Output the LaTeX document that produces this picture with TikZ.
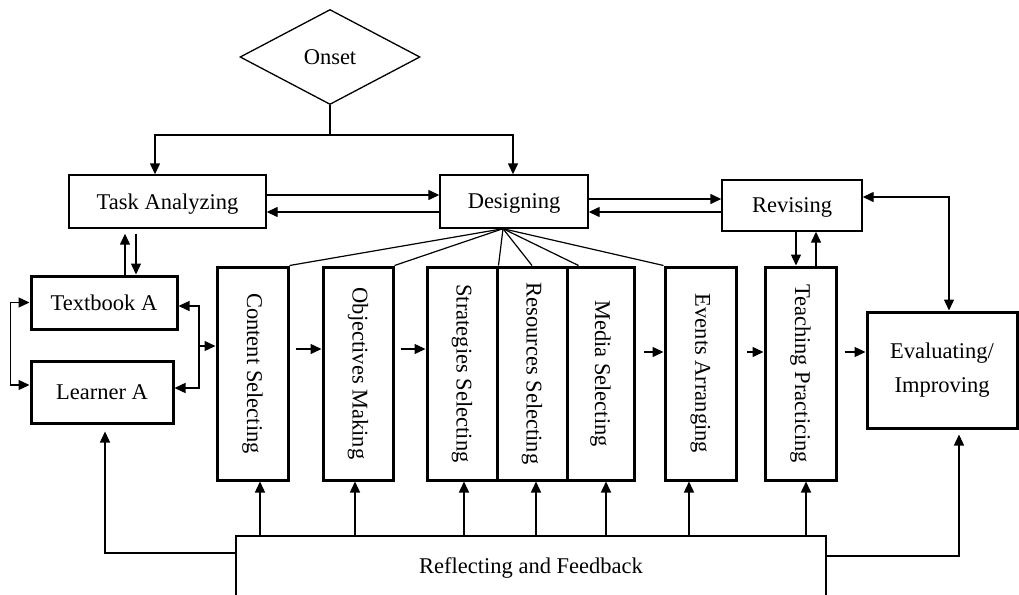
\documentclass[tikz,border=0pt]{standalone}
\usepackage{fontspec}
\setmainfont{Liberation Serif}
\usetikzlibrary{arrows.meta,shapes.geometric,calc}
\begin{document}
\begin{tikzpicture}[x=1pt,y=-1pt,
  every node/.style={font=\fontsize{22.5}{26}\selectfont, inner sep=0pt},
  thinbox/.style={draw, line width=1.4pt, rectangle, text depth=0pt},
  thickbox/.style={draw, line width=3pt, rectangle},
  vbox/.style={thickbox, minimum width=70pt, minimum height=213pt},
  arr/.style={-{Triangle[length=11pt,width=10pt]}, line width=1.4pt},
  arrb/.style={{Triangle[length=11pt,width=10pt]}-{Triangle[length=11pt,width=10pt]}, line width=1.4pt},
  ln/.style={line width=1.2pt}]
\useasboundingbox (0,0) rectangle (1019,594);
\clip (0,0) rectangle (1019,594);

% nodes
\node[draw, diamond, line width=1.3pt, minimum width=180pt, minimum height=95pt, text depth=0pt] (on) at (330,57) {Onset};
\node[thinbox, minimum width=197pt, minimum height=53pt] (ta) at (167.5,201.5) {Task Analyzing};
\node[thinbox, minimum width=148pt, minimum height=53pt] (des) at (514,201.5) {Designing};
\node[thinbox, minimum width=140pt, minimum height=51pt] (rev) at (792,205.5) {Revising};
\node[thickbox, text depth=0pt, minimum width=146pt, minimum height=53pt] (tb) at (104,302.5) {Textbook A};
\node[thickbox, text depth=0pt, minimum width=142pt, minimum height=62pt] (lr) at (102,392) {Learner A};
\node[vbox, minimum width=71pt] (cs) at (252.5,373.5) {\rotatebox{-90}{Content Selecting}};
\node[vbox] (om) at (358,373.5) {\rotatebox{-90}{Objectives Making}};
\node[vbox] (ss) at (462,373.5) {\rotatebox{-90}{Strategies Selecting}};
\node[vbox] (rs) at (532,373.5) {\rotatebox{-90}{Resources Selecting}};
\node[vbox, minimum width=67pt] (ms) at (600.5,373.5) {\rotatebox{-90}{Media Selecting}};
\node[vbox, minimum width=71pt] (ea) at (700.5,373.5) {\rotatebox{-90}{Events Arranging}};
\node[vbox, minimum width=71pt] (tp) at (800.5,373.5) {\rotatebox{-90}{Teaching Practicing}};
\node[thickbox, minimum width=150pt, minimum height=116pt, align=center,
      font=\fontsize{22.5}{34}\selectfont] (ev) at (942,370) {Evaluating/\\Improving};
\node[thinbox, minimum width=590pt, minimum height=60pt] (rf) at (531,566) {Reflecting and Feedback};

% onset branches
\coordinate (j) at (330,135);
\draw[ln] (on.south) -- (j);
\draw[arr] (j) -| ([xshift=-12.5pt]ta.north);
\draw[arr] (j) -| ([xshift=-1pt]des.north);

% top row
\draw[arr] ([yshift=6.5pt]ta.east) -- ([yshift=6.5pt]ta.east -| des.west);
\draw[arr] ([yshift=-10.5pt]ta.east -| des.west) -- ([yshift=-10.5pt]ta.east);
\draw[arr] ([yshift=2.5pt]des.east) -- ([yshift=2.5pt]des.east -| rev.west);
\draw[arr] ([yshift=-10.5pt]des.east -| rev.west) -- ([yshift=-10.5pt]des.east);
\draw[arrb] ([yshift=8.5pt]rev.east) -| ([xshift=7pt]ev.north);
\draw[arr] ([xshift=4pt]rev.south) -- ([xshift=4pt]rev.south |- tp.north);
\draw[arr] ([xshift=24pt]rev.south |- tp.north) -- ([xshift=24pt]rev.south);

% task analyzing <-> textbook
\draw[arr, shorten >=5pt] ([xshift=21pt]tb.north) -- ([xshift=21pt]tb.north |- ta.south);
\draw[arr, shorten <=5pt] ([xshift=32pt]tb.north |- ta.south) -- ([xshift=32pt]tb.north);

% left bracket
\draw[arrb] (tb.west) -- ++(-19,0) |- ([yshift=7pt]lr.west);

% right bracket
\coordinate (rb) at (199,346);
\draw[arr] (rb) |- ([yshift=-3.5pt]tb.east);
\draw[arr] (rb) |- ([yshift=4pt]lr.east);
\draw[arr] (rb) -- (rb -| cs.west);

% horizontal arrows between columns
\draw[arr] ([shift={(6pt,24.5pt)}]cs.east) -- ([yshift=24.5pt]cs.east -| om.west);
\draw[arr] ([shift={(6pt,24.5pt)}]om.east) -- ([yshift=24.5pt]om.east -| ss.west);
\draw[arr] ([shift={(8pt,21.5pt)}]ms.east) -- ([yshift=21.5pt]ms.east -| ea.west);
\draw[arr] ([shift={(9pt,21.5pt)}]ea.east) -- ([yshift=21.5pt]ea.east -| tp.west);
\draw[arr] ([shift={(7pt,21.5pt)}]tp.east) -- ([yshift=21.5pt]tp.east -| ev.west);

% fan from designing
\draw[ln] ([xshift=-11pt]des.south) -- (cs.north east);
\draw[ln] ([xshift=-11pt]des.south) -- (om.north east);
\draw[ln] ([xshift=-11pt]des.south) -- (ss.north east);
\draw[ln] ([xshift=-11pt]des.south) -- (rs.north);
\draw[ln] ([xshift=-11pt]des.south) -- ([xshift=13pt]ms.north west);
\draw[ln] ([xshift=-11pt]des.south) -- (ea.north west);

% feedback arrows
\foreach \n/\s in {cs/7.5,om/-3,ss/2,rs/4,ms/5.5,ea/-11.5,tp/5.5}
  \draw[arr] ([xshift=\s pt]\n.south |- rf.north) -- ([xshift=\s pt]\n.south);
\draw[arr, shorten >=7pt] ([yshift=13pt]rf.west) -| ([xshift=3pt]lr.south);
\draw[arr, shorten >=5pt] ([yshift=10pt]rf.east) -| ([xshift=17pt]ev.south);
\end{tikzpicture}
\end{document}
